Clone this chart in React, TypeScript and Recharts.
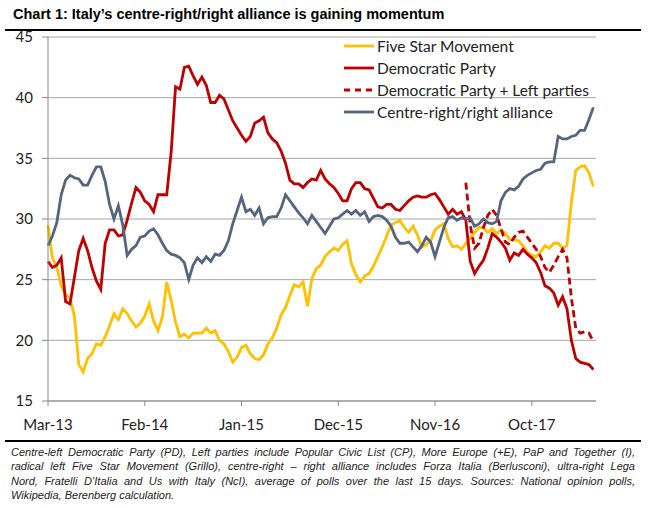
import React from 'react'
import { LineChart, Line, XAxis, YAxis, CartesianGrid } from 'recharts'

// poll averages, one value every half month starting Mar-13
const fiveStar = [
  29.5, 26.8, 26, 24.5, 23.8, 23.5, 22, 18, 17.4, 18.5,
  18.9, 19.7, 19.6, 20.3, 21.2, 22.2, 21.7, 22.6, 22.2, 21.6,
  21.1, 21.4, 22, 23, 21.6, 20.8, 21.9, 24.8, 23.3, 21.5,
  20.3, 20.5, 20.2, 20.6, 20.6, 20.6, 21, 20.6, 20.8, 20,
  19.7, 19.1, 18.2, 18.6, 19.4, 19.6, 18.9, 18.5, 18.4, 18.8,
  19.7, 20.2, 21, 22.1, 22.7, 23.7, 24.6, 24.4, 24.8, 22.8,
  25.1, 25.9, 26.2, 26.9, 27.3, 27.6, 27.4, 27.9, 28.2, 26.3,
  25.4, 24.8, 25.3, 25.5, 26.1, 26.9, 27.7, 28.6, 29.5, 29.7,
  29.9, 29.3, 28.9, 29.4, 28.7, 27.7, 27.9, 28.2, 29.1, 29.4,
  29.6, 28.4, 27.7, 27.8, 27.5, 28, 28.4, 28.9, 29.3, 29.3,
  28.9, 29.2, 28.8, 29.1, 28.8, 28.3, 28.3, 28.2, 27.8, 27.3,
  27, 26.9, 27.3, 27.8, 27.6, 28, 28, 27.6, 27.8, 31.4,
  34, 34.3, 34.4, 33.8, 32.7,
]

const democratic = [
  26.5, 26, 26.2, 26.8, 23.2, 23, 25.2, 27.4, 28.4, 27.4,
  26, 24.9, 24.2, 28, 29.1, 29.1, 28.6, 28.7, 29.9, 31.3,
  32.6, 32.2, 31.5, 31.2, 30.6, 32, 32, 32, 35.5, 40.9,
  40.7, 42.5, 42.6, 41.8, 41.1, 41.7, 41, 39.6, 39.6, 40.2,
  39.9, 39, 38.1, 37.5, 36.9, 36.4, 36.8, 37.9, 38.1, 38.4,
  37.1, 36.6, 36.3, 35.6, 34.6, 33.2, 32.9, 32.9, 32.6, 33,
  33.3, 33.2, 34, 33.3, 32.9, 32.6, 32.1, 31.5, 31.5, 32.5,
  33, 33, 32.5, 32.4, 31.7, 31, 30.9, 31.2, 31.2, 30.8,
  30.7, 31.1, 31.5, 31.8, 31.9, 31.8, 31.8, 32, 32.1, 31.6,
  31, 30.4, 30.8, 30.4, 30.6, 29.9, 26.5, 25.5, 26.1, 26.6,
  27.6, 28.8, 28.5, 28.1, 27.6, 26.6, 27.2, 27, 27.5, 27.1,
  26.8, 26.4, 25.6, 24.5, 24.3, 23.9, 22.9, 23.6, 22.6, 20,
  18.5, 18.2, 18.1, 18, 17.6,
]

// PD + left parties only polled from late 2016 (index 95 onwards)
const pdLeftStart = 95
const pdLeft = [
  33, 29.5, 27.6, 28, 29.3, 30.3, 30.8, 30.3, 29.2, 28.1,
  27.9, 28.5, 28.9, 29, 28.5, 28, 27.5, 26.9, 26, 25.6,
  26.2, 26.9, 27.5, 26.8, 23.5, 21, 20.6, 20.7, 20.6, 19.9,
]

const centreRight = [
  27.8, 28.6, 29.7, 32, 33.2, 33.6, 33.4, 33.3, 32.8, 32.8,
  33.6, 34.3, 34.3, 33.1, 31.2, 30, 31.1, 29.5, 27, 27.5,
  27.8, 28.5, 28.6, 29, 29.2, 28.7, 28, 27.4, 27.1, 27,
  26.8, 26.4, 25, 26.2, 26.8, 26.4, 26.9, 26.5, 27.1, 27,
  27.4, 28.2, 29.6, 30.7, 31.8, 30.6, 30.8, 30.3, 30.9, 29.6,
  30.1, 30.2, 30.2, 30.9, 32, 31.5, 31, 30.5, 30.1, 29.6,
  30.3, 29.8, 29.3, 28.8, 29.4, 30, 30.1, 30.4, 30.7, 30.4,
  30.7, 30.3, 30.6, 29.8, 30.2, 30.3, 30.2, 29.9, 29.4, 28.5,
  28, 28, 28.1, 27.7, 27.3, 27.8, 28.5, 28.1, 26.9, 28.1,
  29.3, 30.1, 30.2, 29.9, 30.1, 30, 30.1, 29.4, 29.6, 30,
  29.7, 29.6, 29.8, 31.5, 32.2, 32.5, 32.4, 32.7, 33.3, 33.6,
  33.8, 34, 34.1, 34.6, 34.7, 34.7, 36.8, 36.6, 36.6, 36.8,
  36.9, 37.3, 37.3, 38.2, 39.2,
]

const tickMonths = [0, 11, 22, 33, 44, 55]
const tickLabels = ['Mar-13', 'Feb-14', 'Jan-15', 'Dec-15', 'Nov-16', 'Oct-17']
const yTicks = [15, 20, 25, 30, 35, 40, 45]

const series = [
  { key: 'fiveStar', name: 'Five Star Movement', color: '#FFC000', dash: undefined },
  { key: 'pd', name: 'Democratic Party', color: '#C00000', dash: undefined },
  { key: 'pdLeft', name: 'Democratic Party + Left parties', color: '#C00000', dash: '7 4' },
  { key: 'right', name: 'Centre-right/right alliance', color: '#56657F', dash: undefined },
]

const noteLines = [
  'Centre-left Democratic Party (PD), Left parties include Popular Civic List (CP), More Europe (+E), PaP and Together (I),',
  'radical left Five Star Movement (Grillo), centre-right – right alliance includes Forza Italia (Berlusconi), ultra-right Lega',
  'Nord, Fratelli D’Italia and Us with Italy (NcI), average of polls over the last 15 days. Sources: National opinion polls,',
  'Wikipedia, Berenberg calculation.',
]

const axisFont = 'Lato, "Open Sans", sans-serif'

export default function App() {
  const data = fiveStar.map((v, i) => ({
    m: i / 2,
    fiveStar: v,
    pd: democratic[i],
    pdLeft: i >= pdLeftStart ? pdLeft[i - pdLeftStart] : null,
    right: centreRight[i],
  }))

  return (
    <div style={{ position: 'absolute', left: 0, top: 0, width: 648, height: 508, background: '#fff', overflow: 'hidden' }}>
      <div style={{ position: 'absolute', left: 13, top: 6, font: 'bold 14.5px "Liberation Sans", Arial, sans-serif', color: '#000' }}>
        Chart 1: Italy’s centre-right/right alliance is gaining momentum
      </div>
      <div style={{ position: 'absolute', left: 5, top: 29, width: 636, height: 2, background: '#000' }} />

      <div style={{ position: 'absolute', left: 0, top: 0 }}>
        <LineChart width={648} height={440} data={data} margin={{ top: 37, right: 52, bottom: 9, left: 0 }}>
          <CartesianGrid vertical={false} stroke="#a6a6a6" />
          <XAxis
            dataKey="m"
            type="number"
            domain={[0, 62.3]}
            ticks={tickMonths}
            tickFormatter={(v: number) => tickLabels[tickMonths.indexOf(v)]}
            stroke="#888"
            tickSize={5}
            tickMargin={13}
            height={30}
            tick={{ fill: '#222', fontSize: 15, fontFamily: axisFont }}
          />
          <YAxis
            domain={[15, 45]}
            ticks={yTicks}
            width={48}
            stroke="#888"
            tickSize={6}
            tickMargin={9}
            tick={{ fill: '#222', fontSize: 15, fontFamily: axisFont }}
          />
          {series.map((s) => (
            <Line
              key={s.key}
              dataKey={s.key}
              stroke={s.color}
              strokeWidth={2.8}
              strokeDasharray={s.dash}
              dot={false}
              type="linear"
              connectNulls={false}
              isAnimationActive={false}
            />
          ))}
        </LineChart>
      </div>

      {/* legend inside the plot, top right */}
      <div style={{ position: 'absolute', left: 344, top: 35, fontFamily: axisFont, fontSize: 15.5, color: '#222' }}>
        {series.map((s) => (
          <div key={s.key} style={{ display: 'flex', alignItems: 'center', height: 22 }}>
            <svg width={30} height={6} style={{ marginRight: 3 }}>
              <line x1={0} y1={3} x2={30} y2={3} stroke={s.color} strokeWidth={2.8} strokeDasharray={s.dash ? '6 5' : undefined} />
            </svg>
            <span>{s.name}</span>
          </div>
        ))}
      </div>

      <div
        style={{
          position: 'absolute',
          left: 5,
          top: 440,
          width: 636,
          borderTop: '2px solid #000',
          paddingTop: 3,
          font: 'italic 11px "Liberation Sans", Arial, sans-serif',
          lineHeight: '14.3px',
          color: '#222',
        }}
      >
        {noteLines.map((line, i) => (
          <div
            key={i}
            style={{
              margin: '0 6px',
              textAlign: 'justify',
              textAlignLast: i < noteLines.length - 1 ? 'justify' : 'left',
              whiteSpace: 'nowrap',
            }}
          >
            {line}
          </div>
        ))}
      </div>
    </div>
  )
}
